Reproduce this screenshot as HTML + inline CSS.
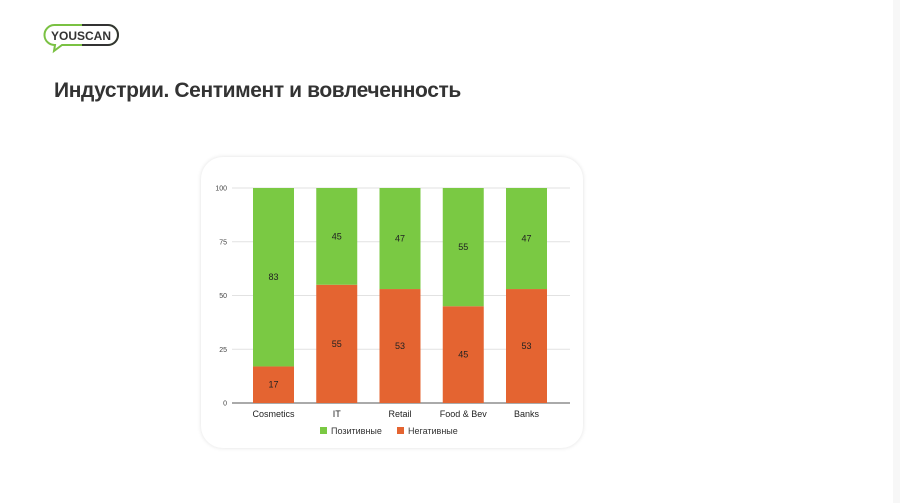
<!DOCTYPE html>
<html><head><meta charset="utf-8"><style>
body{margin:0;width:900px;height:503px;background:#f7f7f7;overflow:hidden;font-family:"Liberation Sans",sans-serif;position:relative}
.page{position:absolute;left:0;top:0;width:893px;height:503px;background:#fff}
.title{position:absolute;left:54px;top:79px;font-size:21px;font-weight:bold;color:#333;letter-spacing:-0.4px}
.card{position:absolute;left:201px;top:157px;width:382px;height:291px;background:#fff;border-radius:22px;box-shadow:0 0 4px rgba(0,0,0,0.12)}
</style></head><body>
<div class="page">
<svg style="position:absolute;left:42px;top:22px" width="80" height="32">
<path d="M12 3 H66 a10 10 0 0 1 0 20 H20 L12 29 L13 23 a10 10 0 0 1 -1 -20" fill="none" stroke="#7ac143" stroke-width="2"/>
<path d="M40 3 H66 a10 10 0 0 1 0 20 H40" fill="none" stroke="#333" stroke-width="2"/>
<text x="39" y="18" text-anchor="middle" font-family="Liberation Sans" font-weight="bold" font-size="12" fill="#333">YOUSCAN</text>
</svg>
<div class="title">Индустрии. Сентимент и вовлеченность</div>
<div class="card"></div>
<svg id="chart" style="position:absolute;left:0;top:0" width="900" height="503"></svg>
</div>
<script>
const categories=["Cosmetics","IT","Retail","Food & Bev","Banks"];
const negative=[17,55,53,45,53];
const positive=[83,45,47,55,47];
const yTicks=[0,25,50,75,100];
const seriesNames=["Позитивные","Негативные"];
const svg=document.getElementById('chart');
const NS='http://www.w3.org/2000/svg';
const y0=403,y100=188,xl=232,xr=570,x0c=273.5,step=63.25,bw=41;
const y=v=>y0-(y0-y100)*v/100;
const x=i=>x0c+i*step;
function mk(t,a,txt){const e=document.createElementNS(NS,t);for(const k in a)e.setAttribute(k,a[k]);if(txt!=null)e.textContent=txt;svg.appendChild(e);return e;}
yTicks.forEach(v=>{
 const g=mk('line',{x1:xl,x2:xr,y1:y(v),y2:y(v),stroke:v===0?'#555':'#e2e2e2','stroke-width':1});
 
 
 const t=mk('text',{x:227,y:y(v)+2.5,'text-anchor':'end','font-size':7,fill:'#444','font-family':'Liberation Sans'},v);
 
 
});
categories.forEach((c,i)=>{
 const n=mk('rect',{x:x(i)-bw/2,y:y(negative[i]),width:bw,height:y0-y(negative[i]),fill:'#e46431'});
 
 
 const p=mk('rect',{x:x(i)-bw/2,y:y(negative[i]+positive[i]),width:bw,height:y(negative[i])-y(negative[i]+positive[i]),fill:'#7ac943'});
 
 
 const nl=mk('text',{x:x(i),y:(y0+y(negative[i]))/2+3,'text-anchor':'middle','font-size':9,fill:'#222','font-family':'Liberation Sans'},negative[i]);
 
 
 const pl=mk('text',{x:x(i),y:(y(negative[i])+y(negative[i]+positive[i]))/2+3,'text-anchor':'middle','font-size':9,fill:'#222','font-family':'Liberation Sans'},positive[i]);
 
 
 const cl=mk('text',{x:x(i),y:417,'text-anchor':'middle','font-size':9,fill:'#222','font-family':'Liberation Sans'},c);
 
 
});
const legendX=[320,397],colors=['#7ac943','#e46431'];
seriesNames.forEach((s,i)=>{
 const r=mk('rect',{x:legendX[i],y:427,width:7,height:7,fill:colors[i]});
 
 
 const t=mk('text',{x:legendX[i]+11,y:434,'font-size':9,fill:'#333','font-family':'Liberation Sans'},s);
 
 
});
</script>
</body></html>
